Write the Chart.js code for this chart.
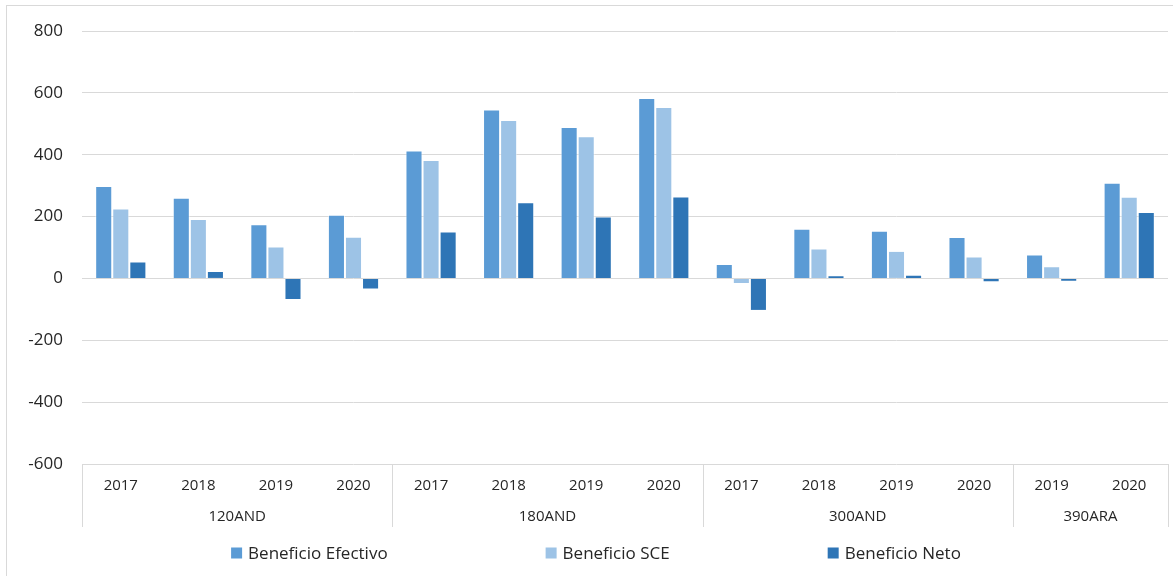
<!DOCTYPE html>
<html>
<head>
<meta charset="utf-8">
<script src="https://cdn.jsdelivr.net/npm/chart.js@4/dist/chart.umd.min.js"></script>
<style>
  html, body { margin: 0; padding: 0; background: #fff; overflow: hidden; }
  #wrap { position: relative; width: 1173px; height: 576px; }
  #frame { position: absolute; left: 6px; top: 5px; width: 1200px; height: 600px; border: 1px solid #d9d9d9; pointer-events: none; }
  canvas { position: absolute; left: 0; top: 0; }
</style>
</head>
<body>
<div id="wrap">
  <canvas id="chart" width="1173" height="576"></canvas>
  <div id="frame"></div>
</div>
<script>
// datos
const years = ['2017','2018','2019','2020','2017','2018','2019','2020','2017','2018','2019','2020','2019','2020'];
const groups = ['120AND','180AND','300AND','390ARA'];
const groupSizes = [4, 4, 4, 2];
const efectivo = [299, 261, 175, 206, 414, 546, 490, 583, 47, 161, 154, 134, 77, 309];
const sce = [226, 192, 103, 135, 383, 512, 460, 554, -18, 97, 89, 71, 39, 264];
const neto = [55, 24, -70, -36, 152, 246, 200, 265, -105, 10, 12, -12, -11, 215];
const yMin = -600, yMax = 800, yStep = 200;

const FONT = "'Open Sans', 'Noto Sans', sans-serif";
const TEXT = '#262626';
const GRID = '#d9d9d9';

// etiquetas de grupo y separadores del eje X, y la leyenda
const groupAxisPlugin = {
  id: 'groupAxis',
  afterDraw(chart) {
    const ctx = chart.ctx;
    const x = chart.scales.x;
    const area = chart.chartArea;
    const top = area.bottom, bottom = area.bottom + 63;
    const edges = [area.left];
    let idx = 0;
    groupSizes.forEach((n, g) => {
      idx += n;
      if (g === groupSizes.length - 1) edges.push(area.right);
      else edges.push((x.getPixelForValue(idx - 1) + x.getPixelForValue(idx)) / 2);
    });
    ctx.save();
    ctx.strokeStyle = GRID;
    ctx.lineWidth = 1;
    edges.forEach(px => {
      const p = Math.round(px) + 0.5;
      ctx.beginPath();
      ctx.moveTo(p, top);
      ctx.lineTo(p, bottom);
      ctx.stroke();
    });
    ctx.fillStyle = TEXT;
    ctx.font = '15px ' + FONT;
    ctx.textAlign = 'center';
    ctx.textBaseline = 'middle';
    groups.forEach((name, g) => {
      ctx.fillText(name, (edges[g] + edges[g + 1]) / 2, area.bottom + 53);
    });

    // leyenda
    const box = 11, gapText = 6, gapItem = 158, center = 596, ly = 553;
    ctx.font = '17px ' + FONT;
    const items = chart.data.datasets.map(ds => ({
      label: ds.label, color: ds.backgroundColor, w: box + gapText + ctx.measureText(ds.label).width
    }));
    const total = items.reduce((s, it) => s + it.w, 0) + gapItem * (items.length - 1);
    let lx = center - total / 2;
    ctx.textAlign = 'left';
    items.forEach(it => {
      ctx.fillStyle = it.color;
      ctx.fillRect(lx, ly - box / 2, box, box);
      ctx.fillStyle = TEXT;
      ctx.fillText(it.label, lx + box + gapText, ly + 1);
      lx += it.w + gapItem;
    });
    ctx.restore();
  }
};

new Chart(document.getElementById('chart'), {
  type: 'bar',
  data: {
    labels: years,
    datasets: [
      { label: 'Beneficio Efectivo', data: efectivo, backgroundColor: '#5b9bd5' },
      { label: 'Beneficio SCE', data: sce, backgroundColor: '#9dc3e6' },
      { label: 'Beneficio Neto', data: neto, backgroundColor: '#2e75b6' }
    ]
  },
  options: {
    responsive: false,
    animation: false,
    layout: { padding: { left: 0, right: 5, top: 31, bottom: 42 } },
    datasets: {
      bar: {
        categoryPercentage: 0.66,
        barPercentage: 1,
        borderWidth: 1,
        borderColor: 'rgba(255,255,255,0.55)'
      }
    },
    plugins: {
      legend: { display: false },
      tooltip: { enabled: false }
    },
    scales: {
      x: {
        grid: { display: false, drawTicks: false },
        border: { display: false },
        ticks: { color: TEXT, font: { family: FONT, size: 15 }, padding: 13, maxRotation: 0, autoSkip: false },
        afterFit(scale) { scale.height = 70; }
      },
      y: {
        min: yMin,
        max: yMax,
        ticks: { stepSize: yStep, color: TEXT, font: { family: FONT, size: 17 }, padding: 19 },
        grid: { color: GRID, drawTicks: false },
        border: { display: false },
        afterFit(scale) { scale.width = 82; }
      }
    }
  },
  plugins: [groupAxisPlugin]
});
</script>
</body>
</html>
